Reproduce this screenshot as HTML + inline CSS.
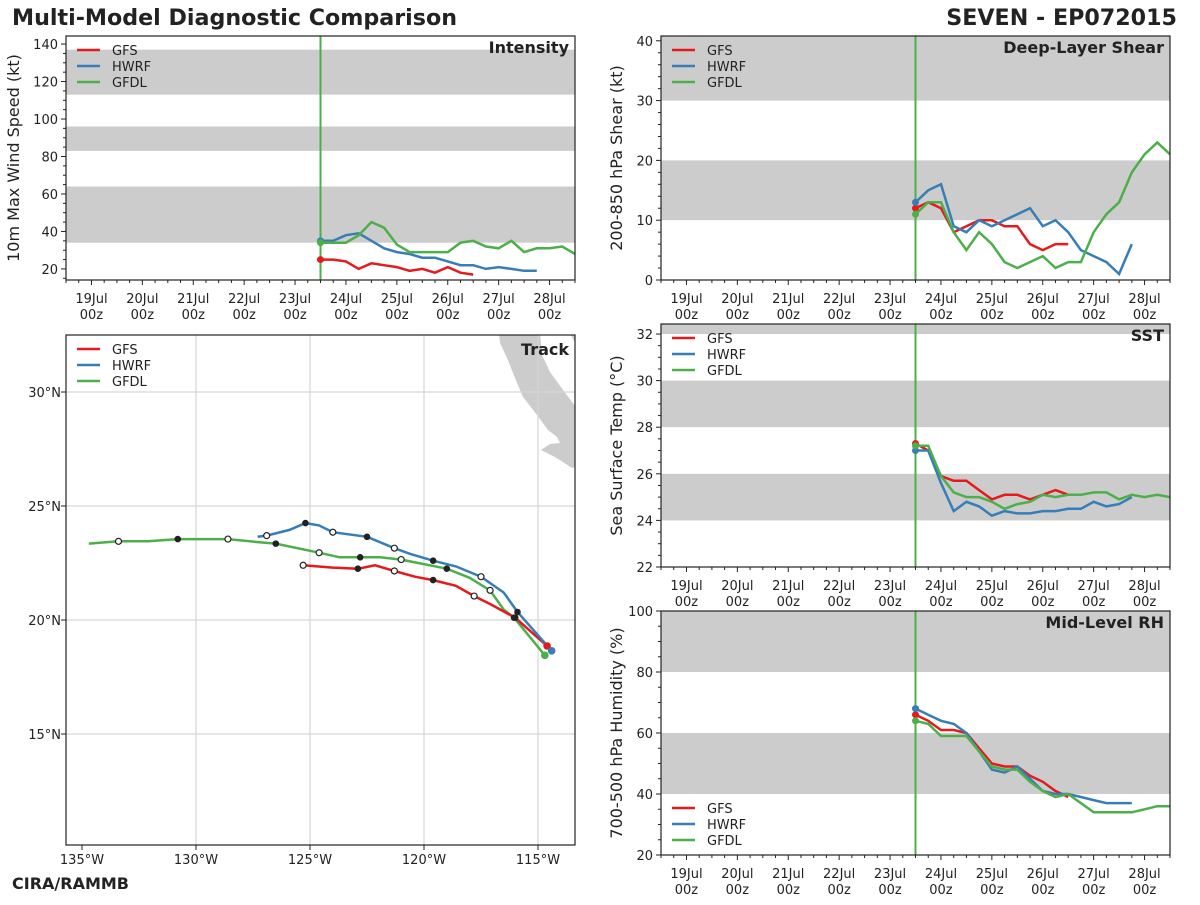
<!DOCTYPE html>
<html><head><meta charset="utf-8"><style>
body{margin:0;background:#fff}
svg text{font-family:"DejaVu Sans","Liberation Sans",sans-serif;fill:#222}
</style></head><body>
<svg id="s" xmlns="http://www.w3.org/2000/svg" width="1200" height="900" viewBox="0 0 1200 900">
<text x="12" y="25" font-size="22.2" font-weight="bold">Multi-Model Diagnostic Comparison</text>
<text x="1177" y="25" font-size="22.2" font-weight="bold" text-anchor="end">SEVEN - EP072015</text>
<text x="12" y="889" font-size="16" font-weight="bold">CIRA/RAMMB</text>
</svg>
<script>
const models=["GFS","HWRF","GFDL"];
const colors=["#e41a1c","#377eb8","#4daf4a"];
const dayLabels=["19Jul","20Jul","21Jul","22Jul","23Jul","24Jul","25Jul","26Jul","27Jul","28Jul"];
const startDay=23.5;
const intGFS=[25,25,24,20,23,22,21,19,20,18,21,18,17];
const intHWRF=[35,35,38,39,35,31,29,28,26,26,24,22,22,20,21,20,19,19];
const intGFDL=[34,34,34,38,45,42,33,29,29,29,29,34,35,32,31,35,29,31,31,32,28];
const shrGFS=[12,13,12,8,9,10,10,9,9,6,5,6,6];
const shrHWRF=[13,15,16,9,8,10,9,10,11,12,9,10,8,5,4,3,1,6];
const shrGFDL=[11,13,13,8,5,8,6,3,2,3,4,2,3,3,8,11,13,18,21,23,21];
const sstGFS=[27.3,27.0,25.9,25.7,25.7,25.3,24.9,25.1,25.1,24.9,25.1,25.3,25.1];
const sstHWRF=[27.0,27.0,25.6,24.4,24.8,24.6,24.2,24.4,24.3,24.3,24.4,24.4,24.5,24.5,24.8,24.6,24.7,25.0];
const sstGFDL=[27.2,27.2,25.9,25.2,25.0,25.0,24.8,24.5,24.7,24.8,25.1,25.0,25.1,25.1,25.2,25.2,24.9,25.1,25.0,25.1,25.0];
const rhGFS=[66,64,61,61,60,55,50,49,49,46,44,41,39];
const rhHWRF=[68,66,64,63,60,54,48,47,49,45,41,40,40,39,38,37,37,37];
const rhGFDL=[64,63,59,59,59,54,49,48,48,44,41,39,40,37,34,34,34,34,35,36,36];
const trkGFSlon=[-114.6,-116.0,-117.1,-117.8,-118.6,-119.6,-120.4,-121.3,-122.15,-122.9,-124.0,-125.3];
const trkGFSlat=[18.86,20.1,20.7,21.05,21.5,21.75,21.9,22.15,22.4,22.25,22.3,22.4];
const trkHWRFlon=[-114.4,-115.9,-116.5,-117.5,-118.6,-119.6,-120.6,-121.3,-122.5,-124.0,-124.6,-125.2,-125.9,-126.9,-127.3];
const trkHWRFlat=[18.65,20.35,21.2,21.9,22.35,22.6,22.9,23.15,23.65,23.85,24.15,24.25,23.95,23.7,23.65];
const trkGFDLlon=[-114.7,-116.05,-116.5,-117.1,-118.0,-119.0,-121.0,-121.9,-122.8,-123.7,-124.6,-126.5,-127.1,-128.6,-130.8,-132.1,-133.4,-134.7];
const trkGFDLlat=[18.45,20.1,20.45,21.3,21.85,22.25,22.65,22.75,22.75,22.75,22.95,23.35,23.4,23.55,23.55,23.45,23.45,23.35];
const mkGFSfill=[1,5,9]; const mkGFSopen=[3,7,11];
const mkHWRFfill=[1,5,8,11]; const mkHWRFopen=[3,7,9,13];
const mkGFDLfill=[1,5,8,11,14]; const mkGFDLopen=[3,6,10,13,16];

const S=document.getElementById('s');const NS="http://www.w3.org/2000/svg";
function mk(t,a,p){const e=document.createElementNS(NS,t);for(const k in a)e.setAttribute(k,a[k]);(p||S).appendChild(e);return e;}
function txt(x,y,s,a){const e=mk('text',Object.assign({x:x,y:y,'font-size':13},a||{}));e.textContent=s;return e;}

function panel(o){
  const g=mk('g',{});
  
  
  const X=d=>o.x0+(d-18.5)*(o.x1-o.x0)/10;
  const Y=v=>o.y1-(v-o.ymin)*(o.y1-o.y0)/(o.ymax-o.ymin);
  const clip='c'+o.name;const cp=mk('clipPath',{id:clip},g);mk('rect',{x:o.x0,y:o.y0,width:o.x1-o.x0,height:o.y1-o.y0},cp);
  o.bands.forEach(b=>{const r=mk('rect',{x:o.x0,y:Y(Math.min(b[1],o.ymax)),width:o.x1-o.x0,height:Y(b[0])-Y(Math.min(b[1],o.ymax)),fill:'#cccccc'},g);
    
    });
  const vl=mk('line',{x1:X(startDay),x2:X(startDay),y1:o.y0,y2:o.y1,stroke:'#4daf4a','stroke-width':2},g);
  
  
  o.series.forEach((s,k)=>{
    const pts=s.map((v,i)=>X(startDay+i*0.25).toFixed(1)+','+Y(v).toFixed(1)).join(' ');
    const pl=mk('polyline',{points:pts,fill:'none',stroke:colors[k],'stroke-width':2.5,'clip-path':'url(#'+clip+')'},g);
    
    
    const c=mk('circle',{cx:X(startDay),cy:Y(s[0]),r:3.5,fill:colors[k]},g);
    
    
  });
  mk('rect',{x:o.x0,y:o.y0,width:o.x1-o.x0,height:o.y1-o.y0,fill:'none',stroke:'#222','stroke-width':1.2},g);
  for(let v=Math.ceil(o.ymin/o.minor)*o.minor;v<=o.ymax+1e-6;v+=o.minor){
    const major=Math.abs(v/o.major-Math.round(v/o.major))<1e-6;
    mk('line',{x1:o.x0,x2:o.x0-(major?5:3),y1:Y(v),y2:Y(v),stroke:'#222'},g);
    if(major){const t=txt(o.x0-8,Y(v)+5,String(Math.round(v)),{'text-anchor':'end'});g.appendChild(t);
      
      }
  }
  for(let d=18.5;d<=28.5001;d+=0.25){
    const major=Math.abs(d-Math.round(d))<1e-6;
    mk('line',{x1:X(d),x2:X(d),y1:o.y1,y2:o.y1+(major?5:3),stroke:'#222'},g);
  }
  dayLabels.forEach((l,i)=>{
    const t1=txt(X(19+i),o.y1+23,l,{'text-anchor':'middle'});g.appendChild(t1);
    
    
    const t2=txt(X(19+i),o.y1+39,'00z',{'text-anchor':'middle'});g.appendChild(t2);
    
    
  });
  const yl=txt(0,0,o.ylabel,{'font-size':16,'text-anchor':'middle',transform:'translate('+o.ylx+','+((o.y0+o.y1)/2)+') rotate(-90)'});g.appendChild(yl);
  
  
  const tt=txt(o.x1-6,o.y0+17,o.title,{'font-size':16,'font-weight':'bold','text-anchor':'end'});g.appendChild(tt);
  
  
  legend(g,o.x0,o.legY);
}
function legend(g,x0,y){
  models.forEach((m,k)=>{
    const l=mk('line',{x1:x0+11,x2:x0+34,y1:y+k*16,y2:y+k*16,stroke:colors[k],'stroke-width':2.5},g);
    
    
    const t=txt(x0+46,y+k*16+5,m,{});g.appendChild(t);
    
    
  });
}
panel({name:'intensity',x0:66,x1:575,y0:36,y1:280,ymin:14.1,ymax:144.3,major:20,minor:5,bands:[[34,64],[83,96],[113,137]],series:[intGFS,intHWRF,intGFDL],ylabel:'10m Max Wind Speed (kt)',ylx:19,title:'Intensity',legY:50});
panel({name:'shear',x0:661,x1:1170,y0:36,y1:280,ymin:0,ymax:40.8,major:10,minor:2,bands:[[10,20],[30,40.8]],series:[shrGFS,shrHWRF,shrGFDL],ylabel:'200-850 hPa Shear (kt)',ylx:622,title:'Deep-Layer Shear',legY:50});
panel({name:'sst',x0:661,x1:1170,y0:324,y1:567,ymin:22,ymax:32.43,major:2,minor:0.5,bands:[[24,26],[28,30],[32,33]],series:[sstGFS,sstHWRF,sstGFDL],ylabel:'Sea Surface Temp (°C)',ylx:622,title:'SST',legY:338});
panel({name:'rh',x0:661,x1:1170,y0:611,y1:855,ymin:20,ymax:100,major:20,minor:5,bands:[[40,60],[80,100]],series:[rhGFS,rhHWRF,rhGFDL],ylabel:'700-500 hPa Humidity (%)',ylx:622,title:'Mid-Level RH',legY:808});

(function(){
  const g=mk('g',{});
  
  
  const x0=66,x1=575,y0=335,y1=845;
  const LX=lon=>82+(lon+135)*22.8, LY=lat=>392-(lat-30)*22.8;
  const cp=mk('clipPath',{id:'ctrack'},g);mk('rect',{x:x0,y:y0,width:x1-x0,height:y1-y0},cp);
  const land=mk('g',{'clip-path':'url(#ctrack)',fill:'#cccccc'},g);
  const p1=mk('polygon',{points:'499,333 540,333 542,355 550,372 563,390 572,402 578,410 578,466 572,468 563,462 553,456 541,450 550,444 560,443 557,437 548,430 537,415 523,397 515,378 507,358 500,343'},land);
  
  
  const p2=mk('polygon',{points:'570,333 578,333 578,345 574,341'},land);
  
  
  [-130,-125,-120,-115].forEach(l=>mk('line',{x1:LX(l),x2:LX(l),y1:y0,y2:y1,stroke:'#d6d6d6','stroke-width':1.2},g));
  [30,25,20,15].forEach(l=>mk('line',{x1:x0,x2:x1,y1:LY(l),y2:LY(l),stroke:'#d6d6d6','stroke-width':1.2},g));
  const tr=[[trkGFSlon,trkGFSlat,mkGFSfill,mkGFSopen],[trkHWRFlon,trkHWRFlat,mkHWRFfill,mkHWRFopen],[trkGFDLlon,trkGFDLlat,mkGFDLfill,mkGFDLopen]];
  [2,0,1].forEach(k=>{
    const [lo,la]=tr[k];
    const pl=mk('polyline',{points:lo.map((v,i)=>LX(v).toFixed(1)+','+LY(la[i]).toFixed(1)).join(' '),fill:'none',stroke:colors[k],'stroke-width':2.5},g);
    
    
  });
  [2,0,1].forEach(k=>{
    const [lo,la,f,op]=tr[k];
    f.forEach(i=>{const c=mk('circle',{cx:LX(lo[i]),cy:LY(la[i]),r:3.3,fill:'#222'},g);
      
      });
    op.forEach(i=>{const c=mk('circle',{cx:LX(lo[i]),cy:LY(la[i]),r:3,fill:'#fff',stroke:'#222','stroke-width':1.2},g);
      
      });
    const c=mk('circle',{cx:LX(lo[0]),cy:LY(la[0]),r:3.8,fill:colors[k]},g);
    
    
  });
  mk('rect',{x:x0,y:y0,width:x1-x0,height:y1-y0,fill:'none',stroke:'#222','stroke-width':1.2},g);
  [-135,-130,-125,-120,-115].forEach(l=>{mk('line',{x1:LX(l),x2:LX(l),y1:y1,y2:y1+5,stroke:'#222'},g);
    const t=txt(LX(l),y1+19,(-l)+'°W',{'text-anchor':'middle'});g.appendChild(t);
    
    });
  [30,25,20,15].forEach(l=>{mk('line',{x1:x0,x2:x0-5,y1:LY(l),y2:LY(l),stroke:'#222'},g);
    const t=txt(x0-5,LY(l)+5,l+'°N',{'text-anchor':'end'});g.appendChild(t);
    
    });
  const tt=txt(x1-6,y0+20,'Track',{'font-size':16,'font-weight':'bold','text-anchor':'end'});g.appendChild(tt);
  
  
  legend(g,x0,349);
})();
</script>
</body></html>
